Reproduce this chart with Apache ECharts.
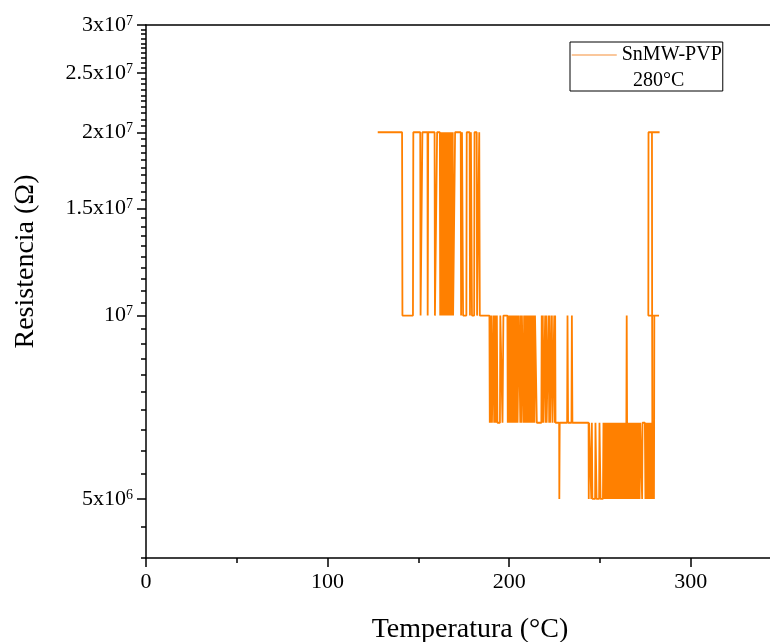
<!DOCTYPE html>
<html>
<head>
<meta charset="utf-8">
<script src="https://cdn.jsdelivr.net/npm/echarts@6/dist/echarts.min.js"></script>
<style>html,body{margin:0;padding:0;background:#fff;}#chart{width:770px;height:642px;}</style>
</head>
<body>
<div id="chart"></div>
<script>
// Temperatura (°C) de cada medida
const temperatura = [
  127.6, 141.0, 141.2, 147.0, 147.2, 151.0, 151.2, 152.0, 152.2, 155.0,
  155.1, 155.3, 155.4, 158.9, 159.1, 160.1, 160.3, 161.8, 162.0, 162.3,
  162.6, 162.9, 163.2, 163.5, 163.8, 164.1, 164.4, 164.7, 165.0, 165.3,
  165.6, 165.9, 166.2, 166.5, 166.8, 167.1, 167.4, 167.7, 168.0, 168.3,
  168.6, 168.9, 169.1, 170.0, 170.2, 173.3, 173.5, 173.9, 174.0, 174.4,
  174.6, 176.4, 176.6, 178.2, 178.4, 178.7, 178.9, 179.3, 179.5, 180.7,
  180.9, 182.1, 182.3, 183.3, 183.5, 183.6, 183.8, 189.1,
  189.3, 189.6, 189.9, 190.2, 190.5, 191.2, 191.4, 191.7, 192.0, 192.3,
  192.6, 192.9, 193.2, 193.5, 194.9, 195.1, 196.1, 196.3, 196.6, 196.8,
  199.0, 199.2, 199.5, 199.8, 200.1, 200.4, 200.7, 201.0, 201.3, 201.6,
  201.9, 202.2, 202.5, 202.8, 203.1, 203.4, 203.7, 204.0, 204.3, 204.6,
  205.1, 205.3, 205.9, 206.1, 206.4, 206.7, 207.0, 207.7, 207.9, 208.2,
  208.5, 208.8, 209.1, 209.4, 209.7, 210.0, 210.3, 210.6, 210.9, 211.2,
  211.5, 211.8, 212.1, 212.4, 212.7, 213.0, 213.3, 213.6, 213.9, 214.2,
  215.0, 215.2, 217.7, 217.9, 218.2, 218.5, 218.8, 219.6, 219.8, 220.1,
  220.4, 220.6, 221.5, 221.7, 222.0, 222.3, 222.5, 223.3, 223.5, 223.8,
  224.6, 224.8, 225.1, 225.3, 225.5, 227.5, 227.6, 227.8, 231.9, 232.1,
  232.4, 234.3, 234.5, 234.8, 243.7, 243.8, 244.0, 245.0, 245.2, 245.5,
  245.8, 247.3, 247.5, 247.9, 248.1, 249.5, 249.7, 250.1, 250.3, 251.6,
  251.9, 252.2, 252.5, 252.8, 253.1, 253.4, 253.7, 254.0, 254.3, 254.6,
  254.9, 255.2, 255.5, 255.8, 256.1, 256.4, 256.7, 257.0, 257.3, 257.6,
  257.9, 258.2, 258.5, 258.8, 259.1, 259.4, 259.7, 260.0, 260.3, 260.6,
  260.9, 261.2, 261.5, 261.8, 262.1, 262.4, 262.7, 263.0, 263.3, 263.6,
  263.9, 264.2, 264.5, 264.7, 264.9, 265.2, 265.5, 265.8, 266.1, 266.4,
  266.7, 267.0, 267.3, 267.6, 267.9, 268.2, 268.5, 268.8, 269.1, 269.4,
  269.7, 270.0, 270.3, 270.6, 270.9, 271.2, 271.5, 271.8, 272.1, 273.0,
  273.2, 273.4, 274.7, 275.0, 275.3, 275.6, 275.9, 276.2, 276.5, 276.8,
  277.1, 277.4, 277.7, 278.0, 278.3, 278.6, 278.9, 279.2, 279.5, 279.7,
  279.8, 279.9, 282.5, 276.6, 276.7, 282.8, 278.6, 278.7, 278.8
];
// Resistencia (Ω) de cada medida
const resistencia = [
  2e7, 2e7, 1e7, 1e7, 2e7, 2e7, 1e7, 1e7, 2e7, 2e7,
  1e7, 1e7, 2e7, 2e7, 1e7, 1e7, 2e7, 2e7, 1e7, 2e7,
  1e7, 2e7, 1e7, 2e7, 1e7, 2e7, 1e7, 2e7, 1e7, 2e7,
  1e7, 2e7, 1e7, 2e7, 1e7, 2e7, 1e7, 2e7, 1e7, 2e7,
  1e7, 2e7, 1e7, 1e7, 2e7, 2e7, 1e7, 1e7, 2e7, 2e7,
  1e7, 1e7, 2e7, 2e7, 1e7, 1e7, 2e7, 2e7, 1e7, 1e7,
  2e7, 2e7, 1e7, 1e7, 2e7, 2e7, 1e7, 1e7,
  6.67e6, 1e7, 6.67e6, 1e7, 6.67e6, 6.67e6, 1e7, 6.67e6, 1e7, 6.67e6,
  1e7, 6.67e6, 1e7, 6.67e6, 6.67e6, 1e7, 1e7, 6.67e6, 6.67e6, 1e7,
  1e7, 6.67e6, 1e7, 6.67e6, 1e7, 6.67e6, 1e7, 6.67e6, 1e7, 6.67e6,
  1e7, 6.67e6, 1e7, 6.67e6, 1e7, 6.67e6, 1e7, 6.67e6, 1e7, 6.67e6,
  6.67e6, 1e7, 1e7, 6.67e6, 1e7, 6.67e6, 1e7, 1e7, 6.67e6, 1e7,
  6.67e6, 1e7, 6.67e6, 1e7, 6.67e6, 1e7, 6.67e6, 1e7, 6.67e6, 1e7,
  6.67e6, 1e7, 6.67e6, 1e7, 6.67e6, 1e7, 6.67e6, 1e7, 6.67e6, 1e7,
  1e7, 6.67e6, 6.67e6, 1e7, 6.67e6, 1e7, 6.67e6, 6.67e6, 1e7, 6.67e6,
  1e7, 6.67e6, 6.67e6, 1e7, 6.67e6, 1e7, 6.67e6, 6.67e6, 1e7, 6.67e6,
  6.67e6, 1e7, 6.67e6, 1e7, 6.67e6, 6.67e6, 5e6, 6.67e6, 6.67e6, 1e7,
  6.67e6, 6.67e6, 1e7, 6.67e6, 6.67e6, 5e6, 6.67e6, 6.67e6, 5e6, 6.67e6,
  5e6, 5e6, 6.67e6, 6.67e6, 5e6, 5e6, 6.67e6, 6.67e6, 5e6, 5e6,
  6.67e6, 5e6, 6.67e6, 5e6, 6.67e6, 5e6, 6.67e6, 5e6, 6.67e6, 5e6,
  6.67e6, 5e6, 6.67e6, 5e6, 6.67e6, 5e6, 6.67e6, 5e6, 6.67e6, 5e6,
  6.67e6, 5e6, 6.67e6, 5e6, 6.67e6, 5e6, 6.67e6, 5e6, 6.67e6, 5e6,
  6.67e6, 5e6, 6.67e6, 5e6, 6.67e6, 5e6, 6.67e6, 5e6, 6.67e6, 5e6,
  6.67e6, 5e6, 6.67e6, 1e7, 6.67e6, 5e6, 6.67e6, 5e6, 6.67e6, 5e6,
  6.67e6, 5e6, 6.67e6, 5e6, 6.67e6, 5e6, 6.67e6, 5e6, 6.67e6, 5e6,
  6.67e6, 5e6, 6.67e6, 5e6, 6.67e6, 5e6, 6.67e6, 5e6, 6.67e6, 6.67e6,
  5e6, 6.67e6, 6.67e6, 5e6, 6.67e6, 5e6, 6.67e6, 5e6, 6.67e6, 5e6,
  6.67e6, 5e6, 6.67e6, 5e6, 6.67e6, 5e6, 6.67e6, 5e6, 6.67e6, 5e6,
  6.67e6, 1e7, 1e7, 1e7, 2e7, 2e7, 2e7, 1e7, 6.67e6
];

const xMayores = [0, 100, 200, 300];
const xMenores = [50, 150, 250];
const yMayores = [5e6, 1e7, 1.5e7, 2e7, 2.5e7, 3e7];
const yEtiquetaBase = ['5x10', '10', '1.5x10', '2x10', '2.5x10', '3x10'];
const yEtiquetaExp = ['6', '7', '7', '7', '7', '7'];
const yMenores = [4e6, 4.5e6, 5.5e6, 6e6, 6.5e6, 7e6, 7.5e6, 8e6, 8.5e6, 9e6, 9.5e6,
  1.05e7, 1.1e7, 1.15e7, 1.2e7, 1.25e7, 1.3e7, 1.35e7, 1.4e7, 1.45e7,
  1.55e7, 1.6e7, 1.65e7, 1.7e7, 1.75e7, 1.8e7, 1.85e7, 1.9e7, 1.95e7,
  2.05e7, 2.1e7, 2.15e7, 2.2e7, 2.25e7, 2.3e7, 2.35e7, 2.4e7, 2.45e7,
  2.55e7, 2.6e7, 2.65e7, 2.7e7, 2.75e7, 2.8e7, 2.85e7, 2.9e7, 2.95e7];

const FONT = '"Liberation Serif", "DejaVu Serif", serif';
const X_MAX = 343.6;

const chart = echarts.init(document.getElementById('chart'), null, {renderer: 'canvas'});
const datos = temperatura.map((t, i) => [t, resistencia[i]]);

function etiquetaY(v) {
  for (let i = 0; i < yMayores.length; i++) {
    if (Math.abs(yMayores[i] - v) / yMayores[i] < 1e-6) {
      return '{m|' + yEtiquetaBase[i] + '}{e|' + yEtiquetaExp[i] + '}';
    }
  }
  return '';
}

chart.setOption({
  animation: false,
  backgroundColor: '#fff',
  grid: {left: 146, right: 0, top: 25, bottom: 84, containLabel: false, outerBoundsMode: 'none'},
  legend: {
    show: true,
    left: 570, top: 42,
    orient: 'vertical',
    data: ['SnMW-PVP'],
    itemWidth: 45, itemHeight: 14, itemGap: 5,
    padding: [3, 1, 26, 1],
    borderColor: '#000', borderWidth: 1,
    lineStyle: {color: '#f8b47a', width: 1.5},
    itemStyle: {opacity: 0},
    textStyle: {fontFamily: FONT, fontSize: 20, color: '#000', lineHeight: 20}
  },
  graphic: [{
    type: 'text', left: 633, top: 71,
    style: {text: '280°C', font: '20px ' + FONT, fill: '#000'}
  }],
  xAxis: [{
    type: 'value', min: 0, max: X_MAX, position: 'bottom',
    name: 'Temperatura (°C)', nameLocation: 'middle', nameGap: 58,
    nameTextStyle: {fontFamily: FONT, fontSize: 28, color: '#000', padding: [0, 0, 0, 24]},
    axisLine: {show: true, onZero: false, lineStyle: {color: '#000', width: 1.5}},
    axisTick: {show: true, length: 9, customValues: xMayores, lineStyle: {color: '#000', width: 1.5}},
    axisLabel: {customValues: xMayores, fontFamily: FONT, fontSize: 22, color: '#000', margin: 13},
    splitLine: {show: false}
  }, {
    type: 'value', min: 0, max: X_MAX, position: 'bottom',
    axisLine: {show: false},
    axisTick: {show: true, length: 5, customValues: xMenores, lineStyle: {color: '#000', width: 1.5}},
    axisLabel: {show: false},
    splitLine: {show: false}
  }, {
    type: 'value', min: 0, max: X_MAX, position: 'top',
    axisLine: {show: true, onZero: false, lineStyle: {color: '#000', width: 1.5}},
    axisTick: {show: false}, axisLabel: {show: false}, splitLine: {show: false}
  }],
  yAxis: [{
    type: 'log', logBase: 10, min: 4e6, max: 3e7, position: 'left',
    name: 'Resistencia (Ω)', nameLocation: 'middle', nameGap: 106, nameRotate: 90,
    nameTextStyle: {fontFamily: FONT, fontSize: 28, color: '#000', padding: [0, 0, 0, 60]},
    axisLine: {show: true, onZero: false, lineStyle: {color: '#000', width: 1.5}},
    axisTick: {show: true, length: 9, customValues: yMayores, lineStyle: {color: '#000', width: 1.5}},
    axisLabel: {
      customValues: yMayores, margin: 13, formatter: etiquetaY,
      rich: {
        m: {fontFamily: FONT, fontSize: 22, color: '#000'},
        e: {fontFamily: FONT, fontSize: 14, color: '#000', verticalAlign: 'top'}
      }
    },
    splitLine: {show: false}, minorTick: {show: false}
  }, {
    type: 'log', logBase: 10, min: 4e6, max: 3e7, position: 'left',
    axisLine: {show: false},
    axisTick: {show: true, length: 5, customValues: yMenores, lineStyle: {color: '#000', width: 1.5}},
    axisLabel: {show: false},
    splitLine: {show: false}
  }],
  series: [{
    name: 'SnMW-PVP',
    type: 'line',
    xAxisIndex: 0, yAxisIndex: 0,
    data: datos,
    symbol: 'none', showSymbol: false,
    lineStyle: {color: '#ff8000', width: 1.8},
    itemStyle: {color: '#ff8000'}
  }]
});
</script>
</body>
</html>
